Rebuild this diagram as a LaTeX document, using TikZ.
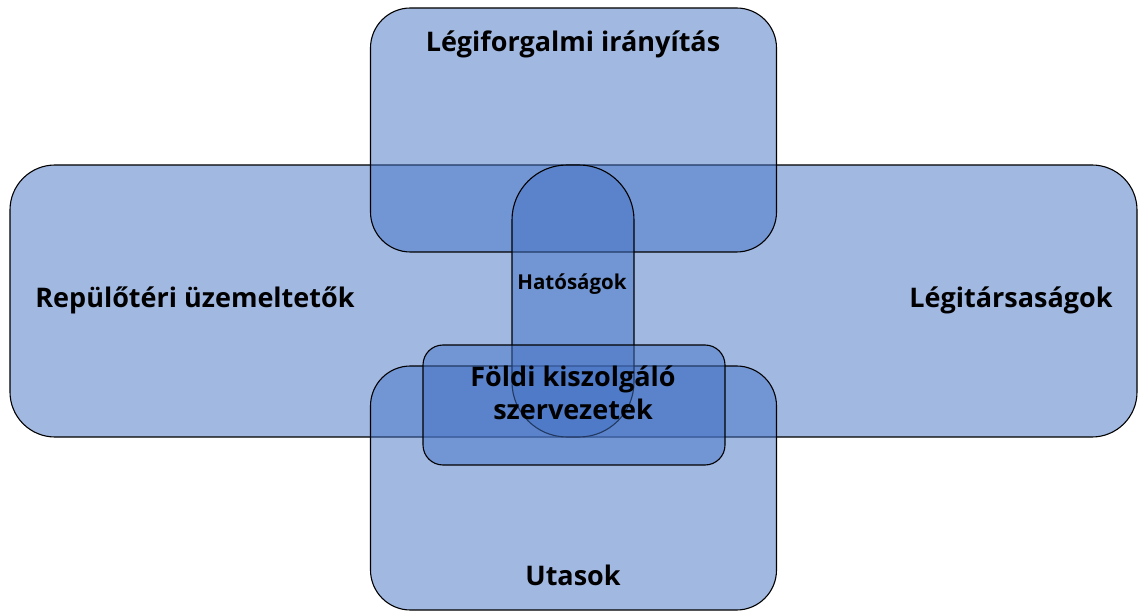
\documentclass[tikz,border=0pt]{standalone}
\usepackage{fontspec}
\setmainfont{Open Sans}
\usepackage{xcolor}
\usepackage{tikz}
\usetikzlibrary{positioning}
\definecolor{blob}{HTML}{4472C4}
\tikzstyle{area} = [
    rectangle, draw=black,
    line width=1.1pt,
    fill=blob, fill opacity=0.5,
    draw opacity=1,
    inner sep=0pt
]
\tikzstyle{lbl} = [
    font=\fontsize{27}{32}\selectfont\bfseries,
    text=black, text opacity=1,
    align=center, inner sep=0pt
]

\begin{document}
\begin{tikzpicture}[x=1pt, y=-1pt]
    \useasboundingbox (0,0) rectangle (1144,612);
    % the overlapping areas
    \node[area, rounded corners=45pt, minimum width=1127pt, minimum height=272pt] (repter) at (573.5,301) {};
    \node[area, rounded corners=40pt, minimum width=406pt, minimum height=244pt] (legi) at (573.5,130) {};
    \node[area, rounded corners=40pt, minimum width=406pt, minimum height=244pt] (utas) at (573.5,488) {};
    \node[area, rounded corners=55pt, minimum width=122pt, minimum height=272pt] (hatosag) at (573,301) {};
    \node[area, rounded corners=20pt, minimum width=302pt, minimum height=120pt] (foldi) at (574,405) {};
    % texts
    \node[lbl] (legiTxt) at (573,44) {Légiforgalmi irányítás};
    \node[lbl] (repterTxt) at (195,300) {Repülőtéri üzemeltetők};
    \node[lbl] (legitarsTxt) at (1011,300) {Légitársaságok};
    \node[lbl, font=\fontsize{20.5}{24}\selectfont\bfseries] (hatosagTxt) at (572,284) {Hatóságok};
    \node[lbl, font=\fontsize{27}{33}\selectfont\bfseries] (foldiTxt) at (573,393) {Földi kiszolgáló\\szervezetek};
    \node[lbl] (utasTxt) at (573,575) {Utasok};
\end{tikzpicture}
\end{document}
